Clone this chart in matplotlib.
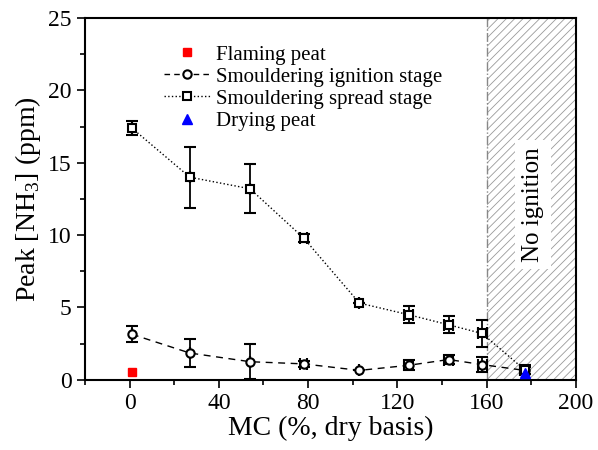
import matplotlib
matplotlib.use("Agg")
import matplotlib.pyplot as plt
from matplotlib.lines import Line2D
from matplotlib.ticker import MultipleLocator

plt.rcParams['font.family'] = ['Liberation Serif', 'DejaVu Serif']
plt.rcParams['mathtext.fontset'] = 'custom'
plt.rcParams['mathtext.rm'] = 'Liberation Serif'
plt.rcParams['hatch.color'] = '#999999'
plt.rcParams['hatch.linewidth'] = 0.6

# data
mc = [1, 27, 54, 78, 103, 125, 143, 158, 177]
spread = [17.4, 14.0, 13.2, 9.8, 5.3, 4.5, 3.8, 3.2, 0.7]
spread_err = [0.5, 2.1, 1.7, 0.3, 0.0, 0.6, 0.6, 0.9, 0.3]
ignition = [3.15, 1.85, 1.25, 1.1, 0.65, 1.0, 1.4, 1.05, 0.65]
ignition_err = [0.55, 1.0, 1.2, 0.2, 0.0, 0.35, 0.3, 0.5, 0.25]
mc_err = [0, 0, 0, 1.5, 0, 2, 2, 2, 2]
flaming_mc = [1]
flaming = [0.55]
drying_mc = [177]
drying = [0.5]

fig = plt.figure(figsize=(5.98, 4.5), dpi=100)
ax = fig.add_axes([0.142, 0.156, 0.821, 0.804])

# no ignition region
ax.axvspan(160, 200, facecolor='white', hatch='////', edgecolor='#999999', linewidth=0)
ax.axvline(160, color='#888888', linestyle='-.', linewidth=1)
ax.text(181, 12.1, 'No ignition', rotation=90, ha='center', va='center', fontsize=18,
        bbox=dict(facecolor='white', edgecolor='none', pad=5))

ax.plot(flaming_mc, flaming, 's', color='red', markersize=6, zorder=5)
ax.errorbar(mc, ignition, yerr=ignition_err, xerr=mc_err, fmt='o--', color='black',
            mfc='white', mew=1.5, markersize=6, capsize=4, elinewidth=1.3, lw=1,
            dashes=(5, 4), zorder=4)
ax.errorbar(mc, spread, yerr=spread_err, xerr=mc_err, fmt='s:', color='black',
            mfc='white', mew=1.5, markersize=6, capsize=4, elinewidth=1.3, lw=1,
            zorder=4)
ax.plot(drying_mc, drying, '^', color='blue', markersize=7, zorder=6)

ax.set_xlim(-20, 200)
ax.set_ylim(0, 25)
ax.xaxis.set_major_locator(MultipleLocator(40))
ax.xaxis.set_minor_locator(MultipleLocator(20))
ax.yaxis.set_major_locator(MultipleLocator(5))
ax.yaxis.set_minor_locator(MultipleLocator(2.5))
ax.tick_params(which='major', direction='out', length=6, width=1.2, labelsize=17)
ax.tick_params(which='minor', direction='out', length=3.5, width=1.2)
for s in ax.spines.values():
    s.set_linewidth(1.5)

ax.set_xlabel('MC (%, dry basis)', fontsize=20, labelpad=1)
ax.set_ylabel('Peak [NH$_3$] (ppm)', fontsize=20, labelpad=4)

handles = [
    Line2D([], [], marker='s', color='red', ls='none', markersize=6),
    Line2D([], [], marker='o', color='black', mfc='white', mew=1.5, markersize=6, ls='--', dashes=(4, 3), lw=1),
    Line2D([], [], marker='s', color='black', mfc='white', mew=1.5, markersize=6, ls=':', lw=1),
    Line2D([], [], marker='^', color='blue', ls='none', markersize=7),
]
labels = ['Flaming peat', 'Smouldering ignition stage', 'Smouldering spread stage', 'Drying peat']
ax.legend(handles, labels, loc='upper left', bbox_to_anchor=(0.135, 0.96), frameon=False,
          fontsize=15, handlelength=2.2, handletextpad=0.3, labelspacing=0.12, borderaxespad=0.2)

fig.savefig('out.png', dpi=100)
